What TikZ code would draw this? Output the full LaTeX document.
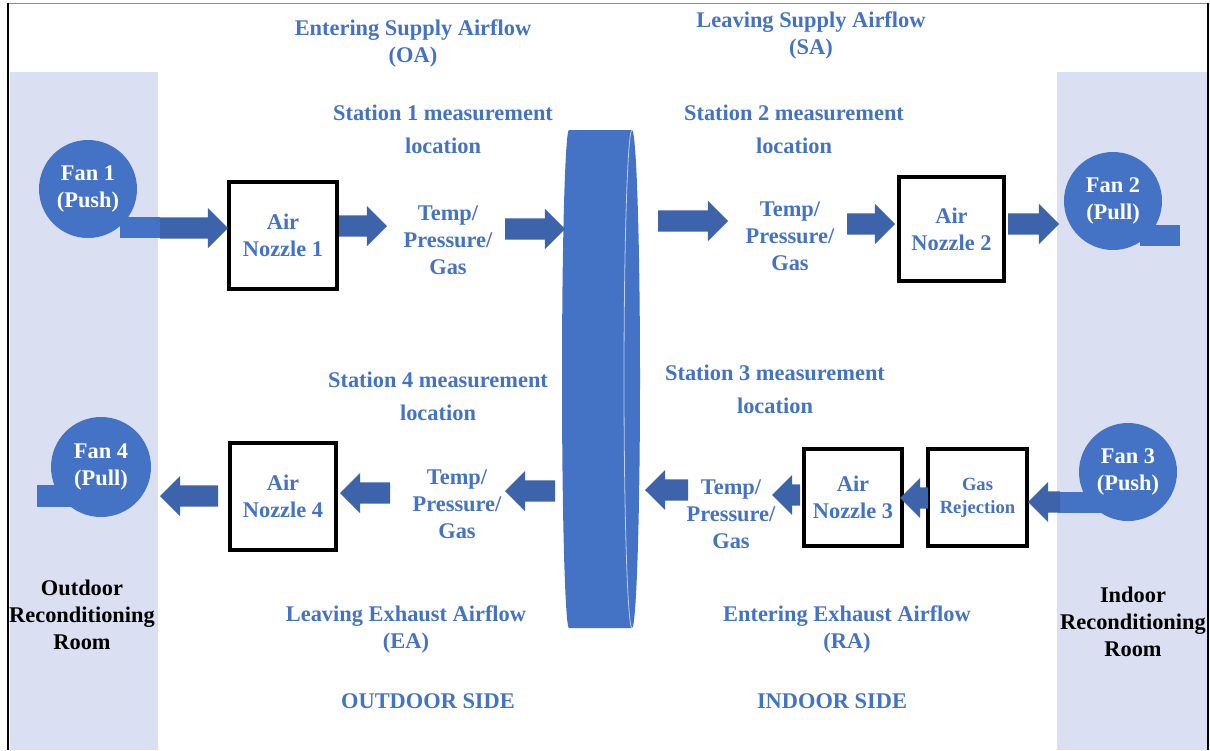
\documentclass[tikz,border=0pt]{standalone}
\usepackage{fontspec}
\setmainfont{Liberation Serif}
\usetikzlibrary{shapes.arrows}
\definecolor{txtblue}{HTML}{4472C4}
\definecolor{fanblue}{HTML}{4472C4}
\definecolor{arrowblue}{HTML}{3D63AB}
\definecolor{roomfill}{HTML}{DAE0F2}
\def\lblfont{\bfseries\fontsize{22.4}{27}\selectfont}
\def\stnfont{\bfseries\fontsize{22.4}{33}\selectfont}
\def\gasfont{\bfseries\fontsize{18.6}{23}\selectfont}

\tikzset{
	lbl/.style={text=txtblue, font=\lblfont, align=center, inner sep=0pt},
	stn/.style={lbl, font=\stnfont},
	fan/.style={circle, fill=fanblue, minimum size=98pt, inner sep=0pt, text=white, font=\lblfont, align=center},
	nozzle/.style={draw=black, line width=4pt, fill=white, inner sep=0pt, text=txtblue, font=\lblfont, align=center},
	flow/.style={single arrow, fill=arrowblue, inner xsep=0pt, inner ysep=10.5pt, outer sep=0pt, single arrow head extend=9.5pt, single arrow tip angle=90, anchor=tail},
	flowleft/.style={flow, shape border rotate=180},
}

\begin{document}
\begin{tikzpicture}[x=1pt, y=-1pt]
			%%%%% START %%%%%
			\useasboundingbox (0,0) rectangle (1210,750);
			
			% rooms
			\fill[roomfill] (10,72) rectangle (157,750);
			\fill[roomfill] (1057,72) rectangle (1207,750);
			\draw[line width=0.6pt, color=black!12] (157,72) -- (157,750);
			\draw[line width=0.6pt, color=black!12] (1057,72) -- (1057,750);
			
			\draw[line width=0.6pt, color=black!45] (8,3) -- (1208,3);
			\draw[line width=1.6pt, color=black] (8,750) -- (8,3);
			\draw[line width=1.6pt, color=black] (1208,3) -- (1208,750);
			
			% wheel
			\fill[fanblue] (569,130) -- (632,130) arc[start angle=-90, end angle=90, x radius=8, y radius=249] -- (569,628) arc[start angle=90, end angle=270, x radius=7, y radius=249] -- cycle;
			\draw[line width=0.8pt, color=white!65!fanblue] (632,130) arc[start angle=-90, end angle=-270, x radius=8, y radius=249];
			
			% fan tails
			\fill[fanblue] (120,217) rectangle (160,238);
			\fill[fanblue] (1140,225) rectangle (1180,246);
			\fill[fanblue] (1058,492) rectangle (1110,513);
			\fill[fanblue] (37,485) rectangle (80,507);
			
			\node[fan] (fan1) at (88,189) {Fan 1\\(Push)};
			\node[fan] (fan2) at (1113,201) {Fan 2\\(Pull)};
			\node[fan] (fan3) at (1128,472) {Fan 3\\(Push)};
			\node[fan, minimum size=100pt] (fan4) at (101,467) {Fan 4\\(Pull)};
			
			\node[nozzle, minimum width=108pt, minimum height=107pt] (noz1) at (283,235.5) {Air\\Nozzle 1};
			\node[nozzle, minimum width=105pt, minimum height=104pt] (noz2) at (951.5,229) {Air\\Nozzle 2};
			\node[nozzle, minimum width=98pt, minimum height=97pt] (noz3) at (853,497.5) {Air\\Nozzle 3};
			\node[nozzle, minimum width=106pt, minimum height=107pt] (noz4) at (283,496) {Air\\Nozzle 4};
			\node[nozzle, minimum width=99pt, minimum height=97pt, font=\gasfont] (gasrej) at (977.5,497.5) {Gas\\Rejection};
			
			% supply side
			\node[flow, minimum height=68pt] (a1) at (160,228) {};
			\node[flow, minimum height=48pt] (a2) at (339,226) {};
			\node[flow, minimum height=60pt] (a3) at (505,229) {};
			\node[flow, minimum height=70pt] (a4) at (658,221) {};
			\node[flow, minimum height=48pt] (a5) at (847,224) {};
			\node[flow, minimum height=51pt] (a6) at (1008,224) {};
			
			% exhaust side
			\node[flowleft, minimum height=32pt] (a7) at (1060,502) {};
			\node[flowleft, minimum height=28pt] (a8) at (928,498) {};
			\node[flowleft, minimum height=28pt] (a9) at (800,495) {};
			\node[flowleft, minimum height=43pt] (a10) at (688,490) {};
			\node[flowleft, minimum height=50pt] (a11) at (555,491) {};
			\node[flowleft, minimum height=50pt] (a12) at (390,493) {};
			\node[flowleft, minimum height=58pt] (a13) at (218,496) {};
			
			\node[lbl] (oa) at (413,43.5) {Entering Supply Airflow\\(OA)};
			\node[lbl] (sa) at (811,35.5) {Leaving Supply Airflow\\(SA)};
			\node[stn] (st1) at (443,129.5) {Station 1 measurement\\location};
			\node[stn] (st2) at (794,129.5) {Station 2 measurement\\location};
			\node[lbl] (tp1) at (448,240) {Temp/\\Pressure/\\Gas};
			\node[lbl] (tp2) at (790,236.5) {Temp/\\Pressure/\\Gas};
			\node[stn] (st4) at (438,396.5) {Station 4 measurement\\location};
			\node[stn] (st3) at (775,389.5) {Station 3 measurement\\location};
			\node[lbl] (tp4) at (457,504.5) {Temp/\\Pressure/\\Gas};
			\node[lbl] (tp3) at (731,514.5) {Temp/\\Pressure/\\Gas};
			\node[lbl] (ea) at (406,629) {Leaving Exhaust Airflow\\(EA)};
			\node[lbl] (ra) at (847,629) {Entering Exhaust Airflow\\(RA)};
			\node[lbl] (outside) at (428,701) {OUTDOOR SIDE};
			\node[lbl] (inside) at (832,701) {INDOOR SIDE};
			
			\node[lbl, text=black] (outroom) at (82,614.5) {Outdoor\\Reconditioning\\Room};
			\node[lbl, text=black] (inroom) at (1133,622) {Indoor\\Reconditioning\\Room};
			
			%%%%% END %%%%%
\end{tikzpicture}
\end{document}
